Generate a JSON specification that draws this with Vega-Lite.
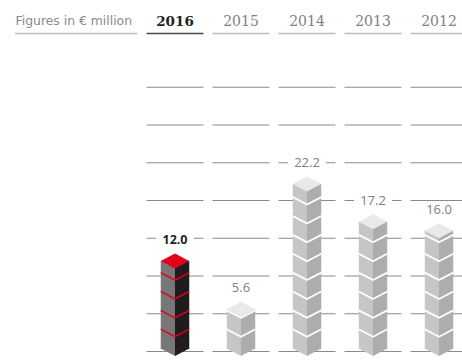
{
  "$schema": "https://vega.github.io/schema/vega-lite/v6.json",
  "width": 320,
  "height": 318,
  "autosize": {"type": "none"},
  "padding": {"left": 142, "top": 33.5, "right": 0, "bottom": 10.5},
  "background": "white",
  "config": {"view": {"stroke": null}},
  "datasets": {
    "results": [
      {"year": "2016", "value": 12.0},
      {"year": "2015", "value": 5.6},
      {"year": "2014", "value": 22.2},
      {"year": "2013", "value": 17.2},
      {"year": "2012", "value": 16.0}
    ],
    "header": [
      {"year": "2016", "level": 42.12},
      {"year": "2015", "level": 42.12},
      {"year": "2014", "level": 42.12},
      {"year": "2013", "level": 42.12},
      {"year": "2012", "level": 42.12}
    ],
    "grid": [
      {"year": "2016", "level": 0}, {"year": "2016", "level": 5}, {"year": "2016", "level": 10}, {"year": "2016", "level": 15},
      {"year": "2016", "level": 20}, {"year": "2016", "level": 25}, {"year": "2016", "level": 30}, {"year": "2016", "level": 35},
      {"year": "2015", "level": 0}, {"year": "2015", "level": 5}, {"year": "2015", "level": 10}, {"year": "2015", "level": 15},
      {"year": "2015", "level": 20}, {"year": "2015", "level": 25}, {"year": "2015", "level": 30}, {"year": "2015", "level": 35},
      {"year": "2014", "level": 0}, {"year": "2014", "level": 5}, {"year": "2014", "level": 10}, {"year": "2014", "level": 15},
      {"year": "2014", "level": 20}, {"year": "2014", "level": 25}, {"year": "2014", "level": 30}, {"year": "2014", "level": 35},
      {"year": "2013", "level": 0}, {"year": "2013", "level": 5}, {"year": "2013", "level": 10}, {"year": "2013", "level": 15},
      {"year": "2013", "level": 20}, {"year": "2013", "level": 25}, {"year": "2013", "level": 30}, {"year": "2013", "level": 35},
      {"year": "2012", "level": 0}, {"year": "2012", "level": 5}, {"year": "2012", "level": 10}, {"year": "2012", "level": 15},
      {"year": "2012", "level": 20}, {"year": "2012", "level": 25}, {"year": "2012", "level": 30}, {"year": "2012", "level": 35}
    ],
    "labelGaps": [
      {"year": "2016", "level": 15},
      {"year": "2014", "level": 25},
      {"year": "2013", "level": 20}
    ],
    "joints": [
      {"year": "2016", "level": 2.5}, {"year": "2016", "level": 5}, {"year": "2016", "level": 7.5}, {"year": "2016", "level": 10},
      {"year": "2015", "level": 2.5}, {"year": "2015", "level": 5},
      {"year": "2014", "level": 2.5}, {"year": "2014", "level": 5}, {"year": "2014", "level": 7.5}, {"year": "2014", "level": 10},
      {"year": "2014", "level": 12.5}, {"year": "2014", "level": 15}, {"year": "2014", "level": 17.5}, {"year": "2014", "level": 20},
      {"year": "2013", "level": 2.5}, {"year": "2013", "level": 5}, {"year": "2013", "level": 7.5}, {"year": "2013", "level": 10},
      {"year": "2013", "level": 12.5}, {"year": "2013", "level": 15},
      {"year": "2012", "level": 2.5}, {"year": "2012", "level": 5}, {"year": "2012", "level": 7.5}, {"year": "2012", "level": 10},
      {"year": "2012", "level": 12.5}, {"year": "2012", "level": 15}
    ]
  },
  "encoding": {
    "x": {
      "field": "year",
      "type": "nominal",
      "sort": ["2016", "2015", "2014", "2013", "2012"],
      "scale": {"range": [0, 330], "paddingInner": 0, "paddingOuter": 0},
      "axis": {
        "orient": "top",
        "domain": false,
        "ticks": false,
        "labelAngle": 0,
        "labelPadding": 5,
        "labelFont": "DejaVu Serif",
        "labelFontSize": {"condition": {"test": "datum.value === '2016'", "value": 13.5}, "value": 14},
        "labelFontWeight": {"condition": {"test": "datum.value === '2016'", "value": "bold"}, "value": "normal"},
        "labelColor": {"condition": {"test": "datum.value === '2016'", "value": "#222222"}, "value": "#808080"},
        "title": "Figures in € million",
        "titleFont": "DejaVu Sans",
        "titleFontSize": 12.4,
        "titleFontWeight": "normal",
        "titleColor": "#8a8a8a",
        "titleAnchor": "start",
        "titleAlign": "left",
        "titleBaseline": "middle",
        "titleX": -127,
        "titleY": -13
      }
    }
  },
  "layer": [
    {
      "data": {"name": "grid"},
      "mark": {"type": "tick", "orient": "horizontal", "size": 57, "thickness": 1.2, "color": "#8a8a8a", "opacity": 1},
      "encoding": {
        "y": {"field": "level", "type": "quantitative", "scale": {"domain": [0, 42.12], "nice": false, "zero": false}, "axis": null}
      }
    },
    {
      "data": {"name": "header"},
      "mark": {"type": "tick", "orient": "horizontal", "size": 57, "thickness": 1.4, "opacity": 1},
      "encoding": {
        "y": {"field": "level", "type": "quantitative", "scale": {"domain": [0, 42.12], "nice": false, "zero": false}, "axis": null},
        "color": {"condition": {"test": "datum.year === '2016'", "value": "#4a4a4a"}, "value": "#bdbdbd"}
      }
    },
    {
      "data": {"values": [{"level": 42.12}]},
      "mark": {"type": "rule", "strokeWidth": 1.4, "color": "#bdbdbd"},
      "encoding": {
        "x": {"value": -127},
        "x2": {"value": -4.7},
        "y": {"field": "level", "type": "quantitative", "scale": {"domain": [0, 42.12], "nice": false, "zero": false}, "axis": null}
      }
    },
    {
      "data": {"name": "labelGaps"},
      "mark": {"type": "tick", "orient": "horizontal", "size": 38, "thickness": 4, "color": "white", "opacity": 1},
      "encoding": {
        "y": {"field": "level", "type": "quantitative", "scale": {"domain": [0, 42.12], "nice": false, "zero": false}, "axis": null}
      }
    },
    {
      "data": {"name": "results"},
      "mark": {"type": "bar", "width": 14.3, "xOffset": -7.1},
      "encoding": {
        "y": {"field": "value", "type": "quantitative", "scale": {"domain": [0, 42.12], "nice": false, "zero": false}, "axis": null},
        "y2": {"datum": 0.33},
        "fill": {"condition": {"test": "datum.year === '2016'", "value": "#777777"}, "value": "#c6c6c6"}
      }
    },
    {
      "data": {"name": "results"},
      "mark": {"type": "bar", "width": 14.3, "xOffset": 7.1},
      "encoding": {
        "y": {"field": "value", "type": "quantitative", "scale": {"domain": [0, 42.12], "nice": false, "zero": false}, "axis": null},
        "y2": {"datum": 0.33},
        "fill": {"condition": {"test": "datum.year === '2016'", "value": "#201c1d"}, "value": "#adadad"}
      }
    },
    {
      "data": {"name": "results"},
      "mark": {"type": "point", "filled": true, "opacity": 1, "size": 4, "strokeWidth": 0, "shape": "M-14.25,-3 L0,4.5 L0,-3 Z"},
      "encoding": {
        "y": {"datum": 0, "type": "quantitative", "scale": {"domain": [0, 42.12], "nice": false, "zero": false}, "axis": null},
        "fill": {"condition": {"test": "datum.year === '2016'", "value": "#777777"}, "value": "#c6c6c6"}
      }
    },
    {
      "data": {"name": "results"},
      "mark": {"type": "point", "filled": true, "opacity": 1, "size": 4, "strokeWidth": 0, "shape": "M14.25,-3 L0,4.5 L0,-3 Z"},
      "encoding": {
        "y": {"datum": 0, "type": "quantitative", "scale": {"domain": [0, 42.12], "nice": false, "zero": false}, "axis": null},
        "fill": {"condition": {"test": "datum.year === '2016'", "value": "#201c1d"}, "value": "#adadad"}
      }
    },
    {
      "data": {"name": "joints"},
      "mark": {"type": "point", "filled": false, "opacity": 1, "size": 4, "shape": "M-14.25,-3.4 L0,4.1 L14.25,-3.4"},
      "encoding": {
        "y": {"field": "level", "type": "quantitative", "scale": {"domain": [0, 42.12], "nice": false, "zero": false}, "axis": null},
        "stroke": {"condition": {"test": "datum.year === '2016'", "value": "#e2001a"}, "value": "#ffffff"},
        "strokeWidth": {"condition": {"test": "datum.year === '2016'", "value": 1.4}, "value": 1.8}
      }
    },
    {
      "data": {"name": "results"},
      "mark": {"type": "point", "filled": true, "opacity": 1, "size": 4, "strokeWidth": 0, "shape": "M-14.25,0 L0,-7.5 L14.25,0 L0,7.5 Z"},
      "encoding": {
        "y": {"field": "value", "type": "quantitative", "scale": {"domain": [0, 42.12], "nice": false, "zero": false}, "axis": null},
        "fill": {"condition": {"test": "datum.year === '2016'", "value": "#e2001a"}, "value": "#e9e9e9"}
      }
    },
    {
      "data": {"name": "results"},
      "transform": [{"filter": "datum.year !== '2016'"}],
      "mark": {"type": "text", "dy": -21, "baseline": "middle", "font": "Open Sans", "fontSize": 13, "color": "#808080"},
      "encoding": {
        "y": {"field": "value", "type": "quantitative", "scale": {"domain": [0, 42.12], "nice": false, "zero": false}, "axis": null},
        "text": {"field": "value", "type": "quantitative", "format": ".1f"}
      }
    },
    {
      "data": {"name": "results"},
      "transform": [{"filter": "datum.year === '2016'"}],
      "mark": {"type": "text", "dy": -21, "baseline": "middle", "font": "Open Sans", "fontSize": 12.5, "fontWeight": "bold", "color": "#222222"},
      "encoding": {
        "y": {"field": "value", "type": "quantitative", "scale": {"domain": [0, 42.12], "nice": false, "zero": false}, "axis": null},
        "text": {"field": "value", "type": "quantitative", "format": ".1f"}
      }
    }
  ]
}
